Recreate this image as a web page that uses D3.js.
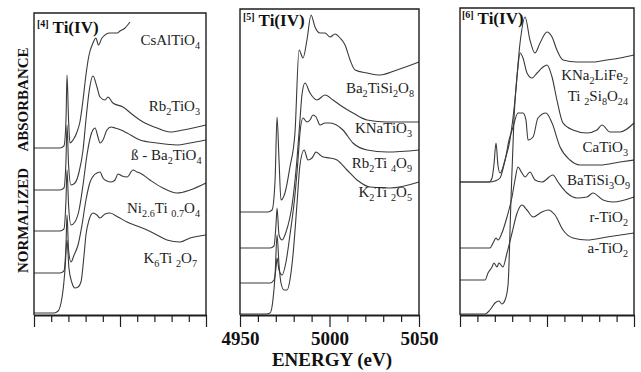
<!DOCTYPE html>
<html><head><meta charset="utf-8">
<script src="https://cdn.jsdelivr.net/npm/d3@7"></script>
<style>body{margin:0;background:#fff}text{white-space:pre}</style>
</head><body><svg id="c" width="641" height="372"></svg>
<script>
// ---------- DATA ----------
const energyTicks = [4950,4960,4970,4980,4990,5000,5010,5020,5030,5040,5050];
const energyLabels = [4950,5000,5050];
const xTitle = "ENERGY (eV)";
const yTitleWords = ["NORMALIZED","ABSORBANCE"];
const panelTitles = ["[4]","[5]","[6]"];
const panelTitleText = "Ti(IV)";

// Panel [4]: [energy eV, normalized absorbance incl. stacking offset]
const p1Labels = ["CsAlTiO_{4}","Rb_{2}TiO_{3}","ß - Ba_{2}TiO_{4}","Ni_{2.6}Ti _{0.7}O_{4}","K_{6}Ti _{2}O_{7}"];
const p1_CsAlTiO4 = [[4950,16.7],[4965.1,16.7],[4967.4,16.9],[4968.6,19.5],[4969.2,24.0],[4970.1,19.5],[4970.9,17.2],[4972.7,17.5],[4975.0,18.3],[4976.7,19.3],[4978.5,21.5],[4980.2,24.0],[4982.0,26.0],[4984.3,27.2],[4986.0,27.7],[4987.5,27.0],[4989.5,27.7],[4994.2,28.2],[4998.3,28.2],[5000.0,28.4],[5002.9,28.7],[5005.8,29.3]];
const p1_Rb2TiO3 = [[4950,12.5],[4965.1,12.5],[4967.4,12.7],[4968.6,15.5],[4969.2,19.0],[4970.1,15.0],[4971.5,13.0],[4973.8,13.2],[4976.2,14.3],[4978.5,16.5],[4980.2,19.5],[4982.0,22.3],[4984.3,23.9],[4986.6,22.8],[4988.4,21.8],[4991.3,21.5],[4993.0,21.8],[4995.9,21.2],[5001.7,20.8],[5007.6,20.0],[5013.4,19.3],[5021.5,18.7],[5029.1,18.3],[5036.6,18.5],[5042.4,18.7],[5050,19.0]];
const p1_Ba2TiO4 = [[4950,8.4],[4965.1,8.4],[4967.4,8.6],[4968.6,11.5],[4969.2,14.5],[4970.1,11.0],[4971.5,9.0],[4973.8,9.3],[4976.2,10.5],[4978.5,13.0],[4980.8,16.0],[4983.1,18.0],[4985.5,18.7],[4987.2,17.8],[4988.4,17.2],[4990.1,17.5],[4992.4,18.5],[4994.8,18.8],[4997.1,18.7],[5000.6,18.5],[5004.1,18.2],[5011.6,17.5],[5021.5,17.2],[5033.1,17.0],[5040.7,17.2],[5050,17.5]];
const p1_Ni26Ti07O4 = [[4950,4.2],[4965.1,4.2],[4967.4,4.4],[4968.6,7.0],[4969.2,10.0],[4970.1,6.5],[4971.5,5.3],[4973.3,6.0],[4975.6,7.0],[4977.9,9.0],[4980.2,11.5],[4982.6,13.3],[4984.9,14.0],[4986.6,14.2],[4988.4,14.3],[4990.1,13.7],[4992.4,13.4],[4994.8,13.3],[4997.1,13.5],[4998.8,14.1],[5001.2,13.9],[5004.1,13.8],[5007.6,14.5],[5009.9,14.3],[5011.6,14.2],[5017.4,13.5],[5025.0,12.7],[5033.1,12.2],[5040.7,12.5],[5050,13.2]];
const p1_K6Ti2O7 = [[4950,0.2],[4961.6,0.2],[4964.0,0.4],[4965.7,1.2],[4966.9,2.5],[4968.0,4.5],[4969.2,7.5],[4970.3,4.7],[4972.1,3.2],[4973.8,2.7],[4975.6,2.8],[4977.3,3.3],[4979.1,6.0],[4980.2,8.0],[4982.0,9.5],[4984.3,10.2],[4986.6,10.0],[4988.4,9.7],[4991.3,10.1],[4994.2,10.2],[4998.8,9.8],[5004.1,9.3],[5009.9,8.9],[5015.7,8.5],[5021.5,8.0],[5027.3,7.5],[5034.9,7.3],[5040.7,7.7],[5050,8.0]];

// Panel [5]
const p2Labels = ["Ba_{2}TiSi_{2}O_{8}","KNaTiO_{3}","Rb_{2}Ti _{4}O_{9}","K_{2}Ti _{2}O_{5}"];
const p2_Ba2TiSi2O8 = [[4950,10.3],[4965.6,10.3],[4967.9,10.5],[4969.6,13.5],[4970.7,19.8],[4971.8,15.5],[4972.9,11.5],[4975.1,12.2],[4977.9,14.8],[4980.7,18.2],[4983.0,26.5],[4985.2,25.7],[4987.4,27.5],[4989.7,30.0],[4991.9,28.8],[4994.7,28.2],[4997.5,28.2],[5000.3,27.8],[5003.1,28.1],[5005.9,27.7],[5008.7,27.0],[5011.5,25.5],[5014.3,24.5],[5021.0,24.2],[5028.2,24.0],[5037.7,24.5],[5050,25.3]];
const p2_KNaTiO3 = [[4950,6.7],[4966.8,6.7],[4969.0,6.9],[4970.1,9.0],[4970.7,10.7],[4971.8,8.0],[4973.5,7.5],[4975.7,8.3],[4979.1,11.0],[4981.8,15.5],[4983.5,19.5],[4984.6,22.0],[4986.3,23.2],[4989.1,22.2],[4993.0,21.5],[4997.5,22.0],[5002.0,21.5],[5007.5,20.8],[5013.1,20.2],[5021.0,19.5],[5032.1,19.3],[5050,19.3]];
const p2_Rb2Ti4O9 = [[4950,3.2],[4966.8,3.2],[4969.0,3.5],[4970.1,4.7],[4970.7,5.7],[4971.8,4.5],[4973.5,4.0],[4975.7,5.3],[4977.9,8.0],[4980.7,12.0],[4982.4,15.5],[4983.5,18.2],[4985.2,19.7],[4987.4,19.3],[4989.1,19.5],[4990.8,20.0],[4992.5,19.8],[4994.7,19.0],[4997.5,19.2],[5000.3,19.2],[5007.5,18.5],[5013.1,17.2],[5021.0,16.5],[5032.1,16.3],[5050,16.5]];
const p2_K2Ti2O5 = [[4950,0.1],[4964.5,0.1],[4966.8,0.2],[4968.4,1.5],[4969.6,4.0],[4970.7,8.0],[4971.8,5.0],[4972.9,3.2],[4974.6,2.5],[4976.3,2.5],[4977.9,3.5],[4979.6,6.0],[4981.8,11.0],[4983.5,15.0],[4985.8,16.5],[4988.0,15.5],[4990.2,15.7],[4992.5,16.3],[4994.7,16.0],[4996.4,15.8],[5000.3,15.7],[5004.2,15.5],[5009.8,14.5],[5015.4,13.5],[5022.6,12.8],[5033.8,12.7],[5050,13.3]];

// Panel [6]
const p3Labels = ["KNa_{2}LiFe_{2}|Ti _{2}Si_{8}O_{24}","CaTiO_{3}","BaTiSi_{3}O_{9}","r-TiO_{2}","a-TiO_{2}"];
const p3_KNa2LiFe2Ti2Si8O24 = [[4950,13.3],[4966.7,13.3],[4970.1,13.4],[4973.0,13.7],[4975.9,15.5],[4978.7,17.5],[4981.6,21.5],[4984.5,27.2],[4987.4,29.8],[4990.2,27.5],[4993.1,26.2],[4996.0,27.2],[5000.0,28.3],[5002.9,27.8],[5005.7,26.5],[5009.2,25.5],[5017.2,25.3],[5026.4,25.3],[5034.5,25.5],[5042.0,25.7],[5050,26.0]];
const p3_CaTiO3 = [[4950,0.1],[4964.4,0.1],[4967.2,0.5],[4970.1,1.2],[4972.4,1.4],[4974.1,1.1],[4975.9,1.5],[4977.6,3.0],[4979.3,11.5],[4981.0,19.5],[4983.3,24.8],[4984.5,26.2],[4986.2,25.7],[4988.5,24.2],[4991.4,23.7],[4994.3,24.2],[4997.7,24.8],[5000.0,25.0],[5002.9,23.8],[5005.7,21.5],[5009.2,19.2],[5014.9,18.5],[5023.0,18.2],[5028.7,18.5],[5031.6,19.0],[5036.2,18.3],[5042.0,18.3],[5050,19.2]];
const p3_BaTiSi3O9 = [[4950,13.3],[4966.7,13.3],[4968.4,13.7],[4969.5,15.0],[4970.7,17.2],[4971.8,15.0],[4973.0,14.2],[4975.9,15.5],[4978.2,17.5],[4980.5,18.8],[4983.3,20.2],[4986.2,20.2],[4987.9,19.5],[4989.1,17.5],[4992.0,17.8],[4994.8,19.7],[4999.4,20.2],[5002.9,19.2],[5007.5,16.8],[5013.2,15.5],[5019.0,15.0],[5030.5,15.0],[5042.0,15.3],[5050,15.5]];
const p3_rTiO2 = [[4950,6.7],[4967.2,6.7],[4969.0,7.2],[4970.7,7.7],[4971.8,7.5],[4974.1,8.2],[4977.0,9.8],[4979.9,11.8],[4981.6,13.5],[4983.3,14.8],[4985.6,14.2],[4987.4,13.8],[4990.2,14.3],[4993.1,13.5],[4997.1,13.3],[5003.4,14.0],[5006.3,13.3],[5011.5,12.2],[5017.2,11.7],[5023.0,11.8],[5026.4,12.2],[5032.2,11.5],[5037.9,11.3],[5050,11.8]];
const p3_aTiO2 = [[4950,3.5],[4964.4,3.5],[4966.1,4.2],[4968.4,4.8],[4969.5,5.2],[4971.3,4.8],[4972.4,5.2],[4974.7,4.8],[4977.0,6.2],[4979.9,8.2],[4982.8,10.2],[4985.6,11.0],[4988.5,10.5],[4992.0,9.8],[4997.1,10.3],[5000.6,10.5],[5004.6,10.0],[5009.2,8.5],[5014.9,7.7],[5023.0,7.5],[5034.5,7.8],[5050,8.2]];

// ---------- LAYOUT ----------
const FONT = "'Liberation Serif','Times New Roman',serif";
const INK = "#1e1e1e";
const panels = [
  {series:[p1_CsAlTiO4,p1_Rb2TiO3,p1_Ba2TiO4,p1_Ni26Ti07O4,p1_K6Ti2O7], labels:p1Labels,
   l:34, r:206, t:13, showTicks:false, title:panelTitles[0], tx:37, ty:33,
   lpos:[[200,45],[200,111],[201.5,160],[200,213],[197,263]]},
  {series:[p2_Ba2TiSi2O8,p2_KNaTiO3,p2_Rb2Ti4O9,p2_K2Ti2O5], labels:p2Labels,
   l:240, r:419, t:9, showTicks:true, title:panelTitles[1], tx:243, ty:26,
   lpos:[[414,93],[412,133],[412,168],[412,197]]},
  {series:[p3_KNa2LiFe2Ti2Si8O24,p3_CaTiO3,p3_BaTiSi3O9,p3_rTiO2,p3_aTiO2], labels:p3Labels,
   l:460, r:634, t:8, showTicks:false, title:panelTitles[2], tx:462, ty:24,
   lpos:[[628,80],[628,152],[630,185],[628,222],[628,253]]}
];
const BOTTOM = 315;
const LINE_GAP = 21;

const svg = d3.select("#c");

function rich(sel, str, fs){
  const parts = str.split(/(_\{[^}]*\})/).filter(s=>s.length);
  let shifted = false;
  parts.forEach(pt=>{
    if(pt.startsWith("_{")){
      sel.append("tspan").text(pt.slice(2,-1)).attr("font-size",fs*0.68).attr("dy", shifted?0:fs*0.28);
      shifted = true;
    } else {
      sel.append("tspan").text(pt).attr("font-size",fs).attr("dy", shifted?-fs*0.28:0);
      shifted = false;
    }
  });
}

panels.forEach(p=>{
  const x = d3.scaleLinear([4950,5050],[p.l,p.r]);
  const y = d3.scaleLinear([0,30],[BOTTOM,15]);
  const g = svg.append("g");

  // curves
  const line = d3.line().x(d=>x(d[0])).y(d=>y(d[1])).curve(d3.curveMonotoneX);
  p.series.forEach(s=>{
    g.append("path").attr("d",line(s)).attr("fill","none")
     .attr("stroke","#3a3a3a").attr("stroke-width",1.1).attr("stroke-linejoin","round");
  });

  // frame
  g.append("path").attr("d",`M${p.l},${BOTTOM}V${p.t}H${p.r}V${BOTTOM}`)
   .attr("fill","none").attr("stroke",INK).attr("stroke-width",1.4);

  // axis
  const ax = d3.axisBottom(x).tickValues(energyTicks).tickSize(7).tickSizeOuter(0)
    .tickFormat(d=> (p.showTicks && energyLabels.includes(d)) ? String(d) : "");
  const axg = g.append("g").attr("transform",`translate(0,${BOTTOM})`).call(ax);
  axg.select(".domain").attr("stroke",INK).attr("stroke-width",2);
  axg.selectAll(".tick line").attr("stroke",INK).attr("stroke-width",1.2)
     .attr("y2", d=> energyLabels.includes(d) ? 12 : 7);
  axg.selectAll(".tick text").attr("y",30).attr("dy",0)
     .attr("font-family",FONT).attr("font-size",19).attr("font-weight","bold").attr("fill","#111");

  // panel title
  const tt = g.append("text").attr("x",p.tx).attr("y",p.ty).attr("font-family",FONT)
    .attr("font-weight","bold").attr("fill","#111");
  tt.append("tspan").text(p.title).attr("font-size",10).attr("dy",-6);
  tt.append("tspan").text(" "+panelTitleText).attr("font-size",17).attr("dy",6);

  // compound labels
  p.labels.forEach((lab,i)=>{
    const lines = lab.split("|");
    lines.forEach((ln,j)=>{
      const t = g.append("text").attr("x",p.lpos[i][0]).attr("y",p.lpos[i][1]+j*LINE_GAP)
        .attr("text-anchor","end").attr("font-family",FONT).attr("fill","#222");
      rich(t, ln, 15);
    });
  });
});

// axis titles
svg.append("text").attr("x",332).attr("y",366).attr("text-anchor","middle")
  .attr("font-family",FONT).attr("font-size",19).attr("font-weight","bold").attr("fill","#111").text(xTitle);
[[220.5,yTitleWords[0]],[99.5,yTitleWords[1]]].forEach(([cy,w])=>{
  svg.append("text").attr("transform",`translate(28,${cy}) rotate(-90)`).attr("text-anchor","middle")
    .attr("font-family",FONT).attr("font-size",15).attr("font-weight","bold").attr("fill","#111").text(w);
});
</script>
</body></html>
